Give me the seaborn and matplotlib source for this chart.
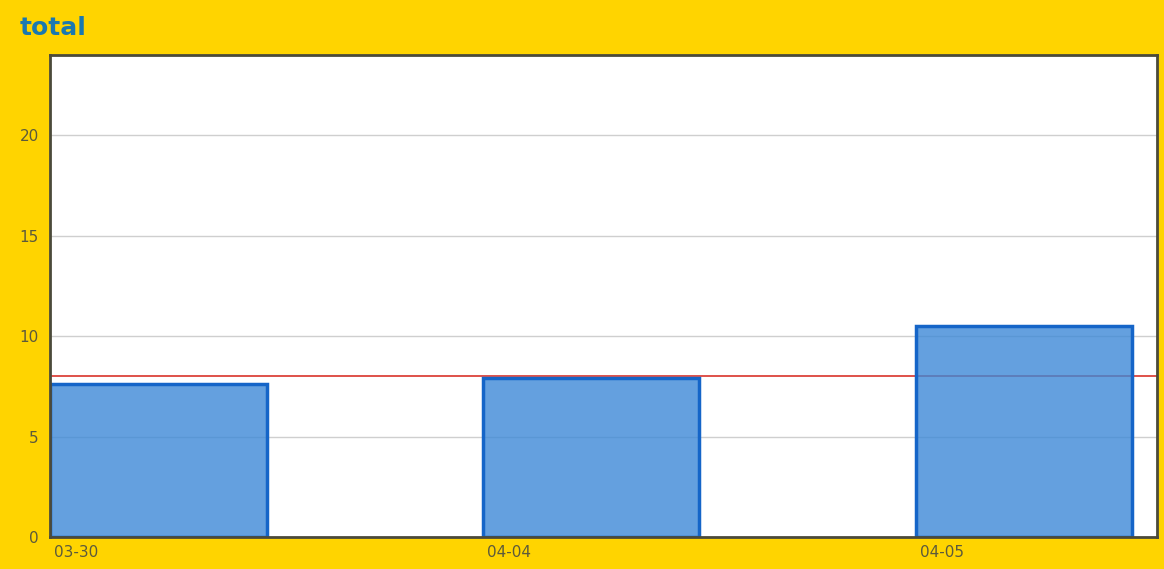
import numpy as np
import pandas as pd
import seaborn as sns
import matplotlib.pyplot as plt
import matplotlib.colors as mcolors
import matplotlib.transforms as mtransforms

# chart values
dates = ["03-30", "04-04", "04-05"]
totals = [7.6, 7.9, 10.5]
target = 8
y_ticks = [0, 5, 10, 15, 20]

df = pd.DataFrame({"date": dates, "total": totals})

sns.set_style("white")
plt.rcParams['font.family'] = ['DejaVu Sans']

bg = "#FFD400"
fig = plt.figure(figsize=(11.64, 5.69), dpi=100, facecolor=bg)
ax = fig.add_axes([0.043, 0.0562, 0.951, 0.8471])
ax.set_facecolor("white")

# grid and target line sit behind the semi-transparent bars
ax.set_axisbelow(True)
ax.yaxis.grid(True, color="#cfcfcf", linewidth=1)
ax.xaxis.grid(False)
ax.axhline(target, color="#d9342b", linewidth=1.2, zorder=0.5)

sns.barplot(data=df, x="date", y="total", width=0.5, color="#3d89d7",
            saturation=1, edgecolor="#1565c8", linewidth=2.5, ax=ax)
face = mcolors.to_rgba("#3d89d7", 0.8)
for p in ax.patches:
    p.set_alpha(None)
    p.set_facecolor(face)
    p.set_edgecolor("#1565c8")
    p.set_zorder(2)

ax.set_ylim(0, 24)
ax.set_yticks(y_ticks)
ax.set_xlim(-0.25, 2.307)
ax.set_xticks(np.arange(len(dates)) - 0.25)
ax.set_xticklabels(dates, ha="left")
ax.tick_params(axis="both", length=0, labelsize=11, labelcolor="#5c5a3c")
ax.tick_params(axis="x", pad=6)
ax.tick_params(axis="y", pad=8)
ax.set_xlabel("")
ax.set_ylabel("")

shift = mtransforms.ScaledTranslation(4 / 100, 0, fig.dpi_scale_trans)
for lbl in ax.get_xticklabels():
    lbl.set_transform(lbl.get_transform() + shift)

for s in ax.spines.values():
    s.set_visible(True)
    s.set_color("#4b4a3a")
    s.set_linewidth(2)

fig.text(0.017, 0.951, "total", fontsize=18, fontweight="bold",
         color="#1a78b0", va="center", ha="left")

fig.savefig("out.png", dpi=100, facecolor=bg)
